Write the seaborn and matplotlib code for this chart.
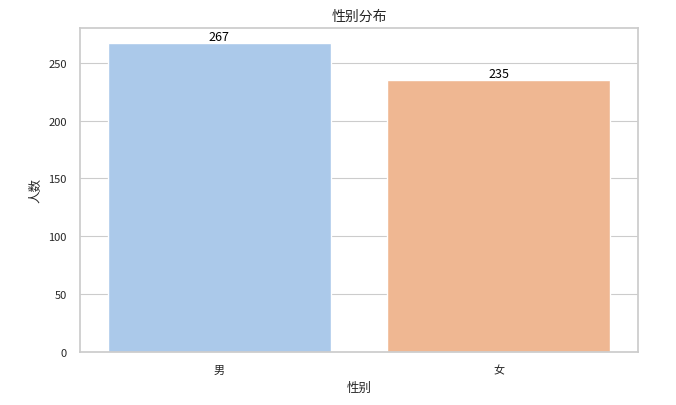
import pandas as pd
import matplotlib
matplotlib.use("Agg")
import matplotlib.pyplot as plt
import seaborn as sns

# Data
genders = ["男", "女"]
counts = [267, 235]

df = pd.DataFrame({"性别": genders, "人数": counts})

sns.set_theme(style="whitegrid")
plt.rcParams["font.family"] = ["Noto Sans CJK SC", "DejaVu Sans"]
plt.rcParams["axes.unicode_minus"] = False

fig = plt.figure(figsize=(6.76, 4.06), dpi=100)
ax = fig.add_axes([0.118, 0.131, 0.826, 0.798])

sns.barplot(x="性别", y="人数", hue="性别", data=df, palette="pastel",
            legend=False, ax=ax)

for container in ax.containers:
    ax.bar_label(container, fontsize=9, color="black", padding=0)

ax.grid(axis="y", linewidth=0.8)
ax.set_title("性别分布", fontsize=10)
ax.set_xlabel("性别", fontsize=9)
ax.set_ylabel("人数", fontsize=9)
ax.tick_params(axis="both", labelsize=8)

fig.savefig("out.png", dpi=100)
